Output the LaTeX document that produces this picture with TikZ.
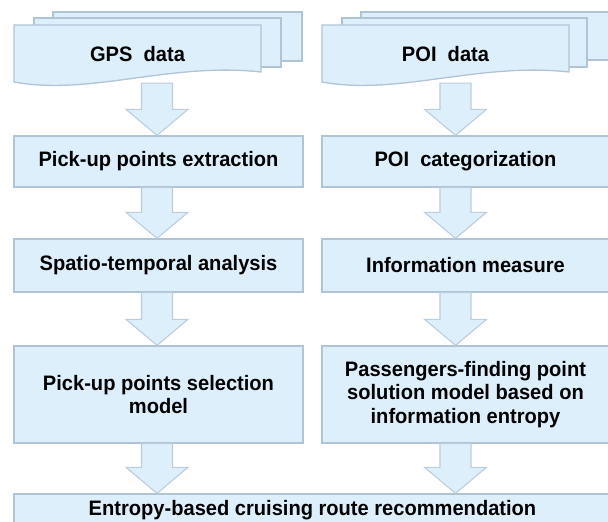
\documentclass[tikz,border=0pt]{standalone}
\usepackage{fontspec}
\setmainfont{Liberation Sans}[FakeStretch=0.96]
\usetikzlibrary{calc}

\definecolor{boxfill}{RGB}{222,239,252}
\definecolor{boxline}{RGB}{176,196,214}
\definecolor{arrowline}{RGB}{188,205,220}

% block arrow from the bottom of #1 to the top of #2, in column #3
\newcommand{\flowarrow}[3]{%
    \coordinate (top) at (#1.south -| #3);
    \coordinate (tip) at (#2.north -| #3);
    \draw [blockarrow] ($(top)+(-15.5,0)$) -- ($(top)+(15.5,0)$)
        -- ($(tip)+(15.5,-26)$) -- ($(tip)+(31,-26)$) -- (tip)
        -- ($(tip)+(-31,-26)$) -- ($(tip)+(-15.5,-26)$) -- cycle;
}

\begin{document}
\begin{tikzpicture}[x=1bp,y=-1bp,
    box/.style={draw=boxline,fill=boxfill,line width=1.3bp,inner sep=0pt,
        minimum width=289bp,align=center,
        font=\bfseries\fontsize{21}{24}\selectfont},
    sheet/.style={draw=boxline,fill=boxfill,line width=1.3bp},
    doctext/.style={inner sep=0pt,minimum width=247bp,minimum height=58bp,
        font=\bfseries\fontsize{21}{24}\selectfont},
    blockarrow/.style={draw=arrowline,fill=boxfill,line width=1.1bp,line join=miter}]

    \useasboundingbox (0,0) rectangle (608,522);

    \coordinate (lcol) at (157,0);
    \coordinate (rcol) at (455.5,0);

    % data stacks
    \draw [sheet] (53,12) rectangle (302,61);
    \draw [sheet] (34,18) rectangle (281,67);
    \draw [sheet] (14,25) -- (261,25) -- (261,72)
        .. controls (170,62) and (90,96) .. (14,82) -- cycle;
    \node [doctext] (gps) at (137.5,54) {GPS~ data};

    \draw [sheet] (361,12) rectangle (612,60);
    \draw [sheet] (342,18) rectangle (587,67);
    \draw [sheet] (322,25) -- (569,25) -- (569,72)
        .. controls (478,62) and (398,96) .. (322,82) -- cycle;
    \node [doctext] (poi) at (445.5,54) {POI~ data};

    \node [box,minimum height=51bp] (extract) at (158.5,161.5)
        {Pick-up points extraction};
    \node [box,minimum height=53bp] (spatio) at (158.5,265.5)
        {Spatio-temporal analysis};
    \node [box,minimum height=97bp] (select) at (158.5,394.5)
        {Pick-up points selection\\model};

    \node [box,minimum width=287bp,minimum height=51bp] (categ) at (465.5,161.5)
        {POI~ categorization};
    \node [box,minimum width=287bp,minimum height=53bp] (measure) at (465.5,265.5)
        {Information measure};
    \node [box,minimum width=287bp,minimum height=97bp] (solution) at (465.5,394.5)
        {Passengers-finding point\\solution model based on\\information entropy};

    \node [box,minimum width=597bp,minimum height=32bp] (route) at (312.5,510)
        {Entropy-based cruising route recommendation};

    \flowarrow{gps}{extract}{lcol}
    \flowarrow{extract}{spatio}{lcol}
    \flowarrow{spatio}{select}{lcol}
    \flowarrow{select}{route}{lcol}

    \flowarrow{poi}{categ}{rcol}
    \flowarrow{categ}{measure}{rcol}
    \flowarrow{measure}{solution}{rcol}
    \flowarrow{solution}{route}{rcol}

\end{tikzpicture}
\end{document}
